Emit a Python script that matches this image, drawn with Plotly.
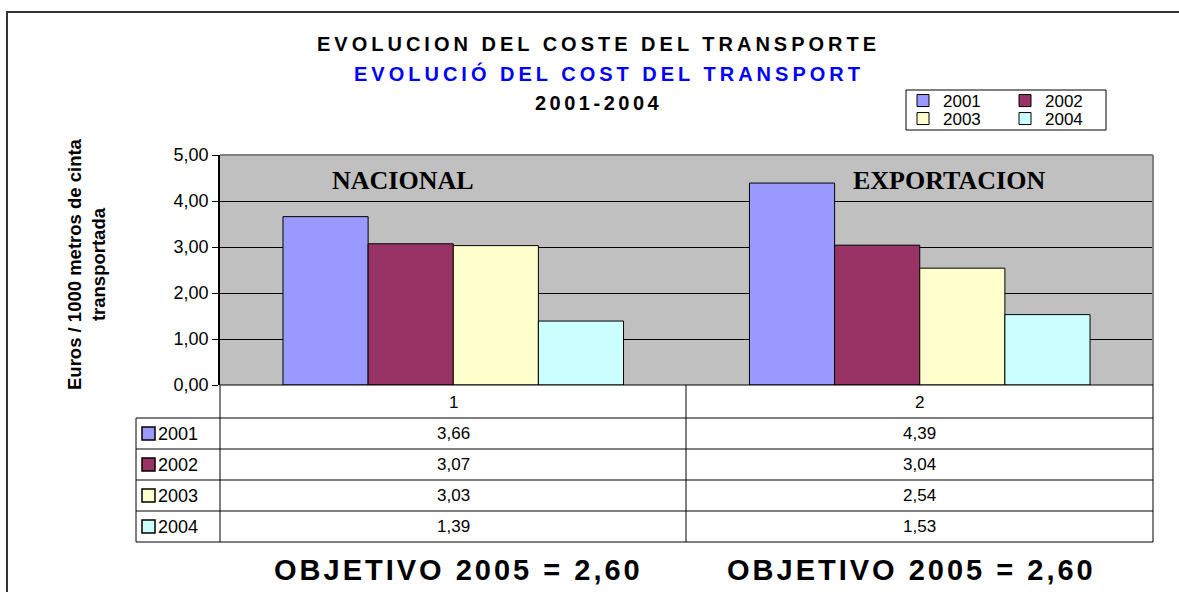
import plotly.graph_objects as go

# ── Data ───────────────────────────────────────────────
categories = ["1", "2"]
region_labels = ["NACIONAL", "EXPORTACION"]
years = ["2001", "2002", "2003", "2004"]
cost_2001 = [3.66, 4.39]
cost_2002 = [3.07, 3.04]
cost_2003 = [3.03, 2.54]
cost_2004 = [1.39, 1.53]
objective_2005 = [2.60, 2.60]
colors = ["#9999FF", "#993366", "#FFFFCC", "#CCFFFF"]
series = [cost_2001, cost_2002, cost_2003, cost_2004]

# ── Geometry helpers (pixel -> paper) ──────────────────
W, H = 1179, 592
L, R, T, B = 220, 1153, 155, 385


def fx(p):
    return (p - L) / (R - L)


def fy(p):
    return (B - p) / (B - T)


def comma(v):
    return f"{v:.2f}".replace(".", ",")


fig = go.Figure()
for i, (yr, vals, col) in enumerate(zip(years, series, colors)):
    fig.add_trace(go.Bar(
        x=categories, y=vals, name=yr,
        marker=dict(color=col, line=dict(color="black", width=1)),
        legend="legend" if i < 2 else "legend2",
        hoverinfo="skip",
    ))

shapes = []
line = dict(color="black", width=1)
# plot area border (top / right), grey
shapes.append(dict(type="line", xref="paper", yref="paper", x0=0, x1=1, y0=1, y1=1,
                   line=dict(color="#808080", width=2), layer="above"))
shapes.append(dict(type="line", xref="paper", yref="paper", x0=1, x1=1, y0=0, y1=1,
                   line=dict(color="#808080", width=2), layer="above"))
# outer chart border
shapes.append(dict(type="rect", xref="paper", yref="paper",
                   x0=fx(7), x1=fx(1190), y0=fy(12), y1=fy(610),
                   line=dict(color="#333333", width=2)))
# data table grid
row_lines = [418, 449, 480, 511, 542]
for yy in row_lines:
    shapes.append(dict(type="line", xref="paper", yref="paper",
                       x0=fx(136), x1=fx(R), y0=fy(yy), y1=fy(yy), line=line))
shapes.append(dict(type="line", xref="paper", yref="paper",
                   x0=fx(L), x1=fx(R), y0=fy(B), y1=fy(B), line=line))
for xx, ytop in [(136, 418), (L, B), (686, B), (R, B)]:
    shapes.append(dict(type="line", xref="paper", yref="paper",
                       x0=fx(xx), x1=fx(xx), y0=fy(ytop), y1=fy(542), line=line))
# legend box
shapes.append(dict(type="rect", xref="paper", yref="paper",
                   x0=fx(906), x1=fx(1106), y0=fy(90), y1=fy(130),
                   line=dict(color="black", width=1), fillcolor="white", layer="below"))

annotations = []
font = "Arial, Liberation Sans, sans-serif"


def note(x, y, text, size, xref="paper", xanchor="center", **kw):
    f = dict(family=kw.pop("family", font), size=size, color=kw.pop("color", "black"))
    if kw.pop("bold", False):
        f["weight"] = "bold"
    annotations.append(dict(x=x, y=y, xref=xref, yref="paper", showarrow=False,
                            xanchor=xanchor, yanchor="middle", text=text, font=f, **kw))


# titles
note(fx(598), fy(44), "<span style='letter-spacing:4px'>EVOLUCION DEL COSTE DEL TRANSPORTE</span>",
     20, bold=True)
note(fx(609), fy(73), "<span style='letter-spacing:4px'>EVOLUCIÓ DEL COST DEL TRANSPORT</span>",
     20, bold=True, color="#0000FF")
note(fx(598), fy(103), "<span style='letter-spacing:3.5px'>2001-2004</span>", 20, bold=True)
# y axis title
note(fx(86), fy(264), "Euros / 1000 metros de cinta<br>transportada", 18.5, bold=True,
     textangle=-90)
# region labels inside plot
for xc, lab in zip([403, 949], region_labels):
    note(fx(xc), fy(180), lab, 26, bold=True,
         family="Times New Roman, Liberation Serif, serif")
# table: category row
for i, c in enumerate(categories):
    note(i, fy(402), c, 17, xref="x")
# table: series rows
for r, (yr, vals, col) in enumerate(zip(years, series, colors)):
    yc = (row_lines[r] + row_lines[r + 1]) / 2
    shapes.append(dict(type="rect", xref="paper", yref="paper",
                       x0=fx(142), x1=fx(155), y0=fy(yc - 6.5), y1=fy(yc + 6.5),
                       fillcolor=col, line=dict(color="black", width=1.5)))
    note(fx(156), fy(yc), yr, 18, xanchor="left")
    for i, v in enumerate(vals):
        note(i, fy(yc), comma(v), 17, xref="x")
# objectives
for xc, v in zip([458, 911], objective_2005):
    note(fx(xc), fy(570), f"<span style='letter-spacing:3px'>OBJETIVO 2005 = {comma(v)}</span>",
         29, bold=True)

legend_style = dict(orientation="h", xref="paper", yref="paper", xanchor="left",
                    yanchor="middle", entrywidth=57, bgcolor="rgba(0,0,0,0)",
                    borderwidth=0, font=dict(family=font, size=17, color="black"),
                    itemclick=False, itemdoubleclick=False)

fig.update_layout(
    width=W, height=H,
    margin=dict(l=L, r=W - R, t=T, b=H - B),
    paper_bgcolor="white",
    plot_bgcolor="#C0C0C0",
    separators=",.",
    barmode="group",
    bargap=0.27,
    bargroupgap=0,
    showlegend=True,
    legend=dict(x=fx(903), y=fy(101), **legend_style),
    legend2=dict(x=fx(903), y=fy(119), **legend_style),
    xaxis=dict(type="category", range=[-0.5, 1.5], showticklabels=False, ticks="",
               showgrid=False, showline=False, zeroline=False, fixedrange=True),
    yaxis=dict(range=[0, 5], dtick=1, tickformat=".2f", showgrid=True,
               gridcolor="black", gridwidth=1, zeroline=False,
               showline=True, linecolor="black", linewidth=1.5,
               ticks="outside", ticklen=6, tickcolor="black",
               tickfont=dict(family=font, size=18, color="black"), fixedrange=True),
    shapes=shapes,
    annotations=annotations,
)

fig.write_html("out.html", config={"displayModeBar": False},
               post_script="document.body.style.margin = '0px';")
